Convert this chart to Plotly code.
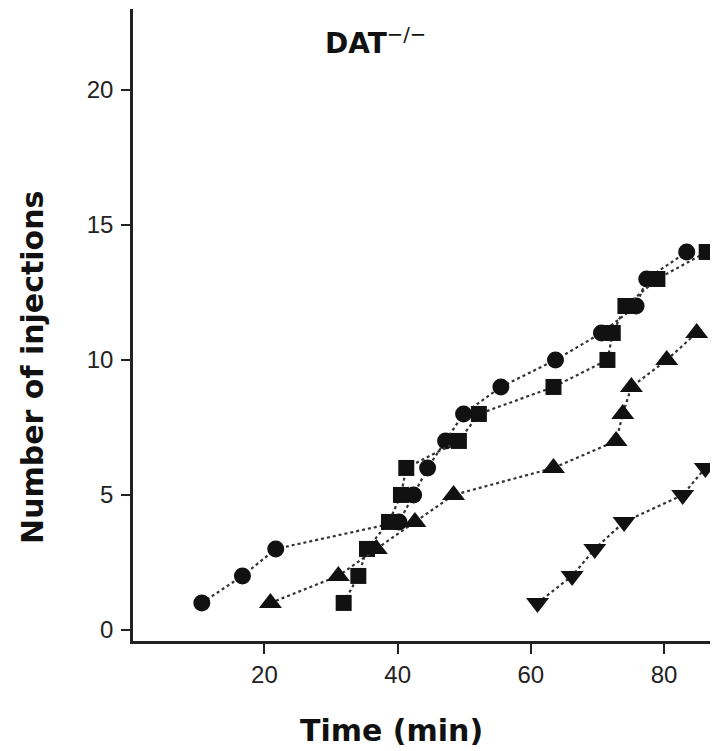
import plotly.graph_objects as go

# Data (time in min, cumulative number of injections)
circle_x = [10.6, 16.7, 21.7, 40.2, 42.4, 44.5, 47.2, 49.9, 55.5, 63.7, 70.6, 75.8, 77.4, 83.4]
circle_y = [1, 2, 3, 4, 5, 6, 7, 8, 9, 10, 11, 12, 13, 14]

square_x = [31.9, 34.1, 35.4, 38.7, 40.5, 41.3, 49.2, 52.2, 63.4, 71.5, 72.3, 74.2, 79.0, 86.4]
square_y = [1, 2, 3, 4, 5, 6, 7, 8, 9, 10, 11, 12, 13, 14]

tri_up_x = [20.9, 31.1, 36.8, 42.6, 48.4, 63.4, 72.8, 73.8, 75.1, 80.4, 84.9]
tri_up_y = [1, 2, 3, 4, 5, 6, 7, 8, 9, 10, 11]

tri_down_x = [61.0, 66.2, 69.6, 74.0, 82.8, 86.2]
tri_down_y = [1, 2, 3, 4, 5, 6]

x_ticks = [20, 40, 60, 80]
y_ticks = [0, 5, 10, 15, 20]

MARK = "#111111"
LINE = "#333333"

fig = go.Figure()
series = [
    (circle_x, circle_y, "circle", 17),
    (square_x, square_y, "square", 16),
    (tri_up_x, tri_up_y, "triangle-up", 20),
    (tri_down_x, tri_down_y, "triangle-down", 20),
]
for xs, ys, sym, sz in series:
    fig.add_trace(go.Scatter(
        x=xs, y=ys, mode="lines+markers",
        line=dict(color=LINE, width=2.2, dash="dot"),
        marker=dict(symbol=sym, size=sz, color=MARK, line=dict(width=0)),
        showlegend=False,
    ))

tickfont = dict(family="Liberation Sans, Arial, sans-serif", size=24, color="#222222")
fig.update_xaxes(
    range=[0.27, 88.1], tickvals=x_ticks, ticktext=[str(v) for v in x_ticks],
    showline=True, linecolor="#222222", linewidth=2.5,
    ticks="outside", ticklen=10, tickwidth=2, tickcolor="#222222",
    showgrid=False, zeroline=False, tickfont=tickfont,
)
fig.update_yaxes(
    range=[-0.41, 23.0], tickvals=y_ticks, ticktext=[str(v) for v in y_ticks],
    showline=True, linecolor="#222222", linewidth=2.5,
    ticks="outside", ticklen=9, tickwidth=2, tickcolor="#222222",
    showgrid=False, zeroline=False, tickfont=tickfont, ticklabelstandoff=3,
)

titlefont = dict(family="DejaVu Sans", size=30, color="#111111")
fig.add_annotation(
    text="<b>Number of injections</b>", textangle=-90,
    xref="paper", yref="paper", x=-0.1716, y=0.433,
    xanchor="center", yanchor="middle", showarrow=False, font=titlefont,
)
fig.add_annotation(
    text="<b>Time (min)</b>",
    xref="paper", yref="paper", x=0.4415, y=-0.142,
    xanchor="center", yanchor="middle", showarrow=False, font=titlefont,
)
fig.add_annotation(
    text="<b>DAT</b><sup>−/−</sup>",
    xref="paper", yref="paper", x=0.325, y=0.949,
    xanchor="left", yanchor="middle", showarrow=False,
    font=dict(family="DejaVu Sans", size=28, color="#111111"),
)

# page body has an 8px default margin, so the figure is 8px smaller than the window
fig.update_layout(
    width=710, height=743,
    margin=dict(l=124.5, r=0, t=1, b=110),
    plot_bgcolor="white", paper_bgcolor="white",
)

fig.write_html("out.html")
